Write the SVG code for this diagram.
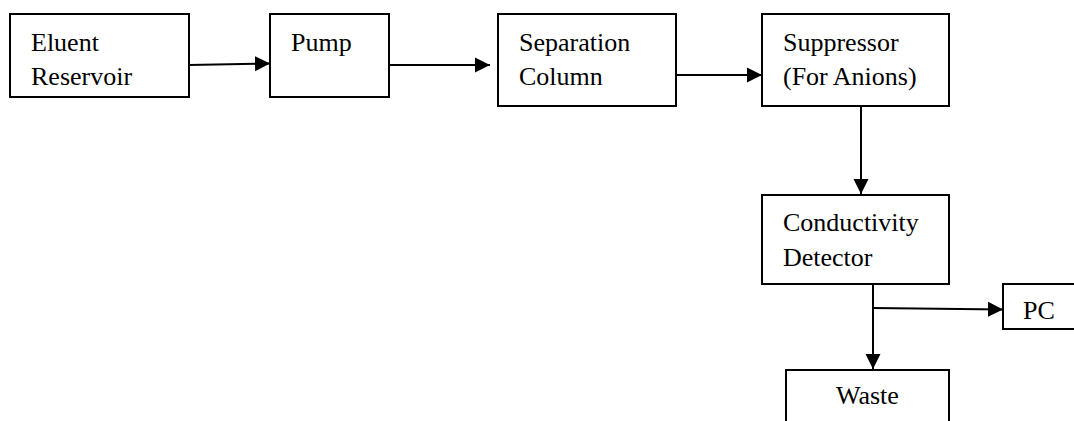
<svg xmlns="http://www.w3.org/2000/svg" width="1074" height="421" viewBox="0 0 1074 421">
<style>
.box{fill:#fff;stroke:#000;stroke-width:2}
.t{font-family:"Liberation Serif","Times New Roman",serif;font-size:26px;fill:#000}
.c{fill:none;stroke:#000;stroke-width:2}
</style>
<defs>
<marker id="ah" markerUnits="userSpaceOnUse" markerWidth="16" markerHeight="16" viewBox="0 0 16 16" refX="15" refY="8" orient="auto">
<path d="M0,0.5 L15,8 L0,15.5 Z" fill="#000"/>
</marker>
</defs>
<rect width="1074" height="421" fill="#fff"/>
<g id="connectors">
<line class="c" x1="189" y1="65" x2="270" y2="63.5" marker-end="url(#ah)"/>
<line class="c" x1="389" y1="65" x2="490" y2="65" marker-end="url(#ah)"/>
<line class="c" x1="676" y1="75" x2="762" y2="75" marker-end="url(#ah)"/>
<line class="c" x1="861" y1="106" x2="861" y2="194" marker-end="url(#ah)"/>
<line class="c" x1="873" y1="284" x2="873" y2="369" marker-end="url(#ah)"/>
<line class="c" x1="873" y1="308" x2="1003" y2="309.5" marker-end="url(#ah)"/>
</g>
<g id="eluent">
<rect class="box" x="10" y="14" width="179" height="83"/>
<text class="t" x="31" y="51">Eluent</text>
<text class="t" x="31" y="85">Reservoir</text>
</g>
<g id="pump">
<rect class="box" x="270" y="14" width="119" height="83"/>
<text class="t" x="291" y="51">Pump</text>
</g>
<g id="column">
<rect class="box" x="498" y="14" width="178" height="92"/>
<text class="t" x="519" y="51">Separation</text>
<text class="t" x="519" y="85">Column</text>
</g>
<g id="suppressor">
<rect class="box" x="762" y="14" width="187" height="92"/>
<text class="t" x="783" y="51">Suppressor</text>
<text class="t" x="783" y="85">(For Anions)</text>
</g>
<g id="detector">
<rect class="box" x="762" y="195" width="187" height="89"/>
<text class="t" x="783" y="231">Conductivity</text>
<text class="t" x="783" y="266">Detector</text>
</g>
<g id="pc">
<rect class="box" x="1003" y="284" width="80" height="45"/>
<text class="t" x="1023" y="319">PC</text>
</g>
<g id="waste">
<rect class="box" x="786" y="370" width="163" height="60"/>
<text class="t" x="836" y="404">Waste</text>
</g>
</svg>
